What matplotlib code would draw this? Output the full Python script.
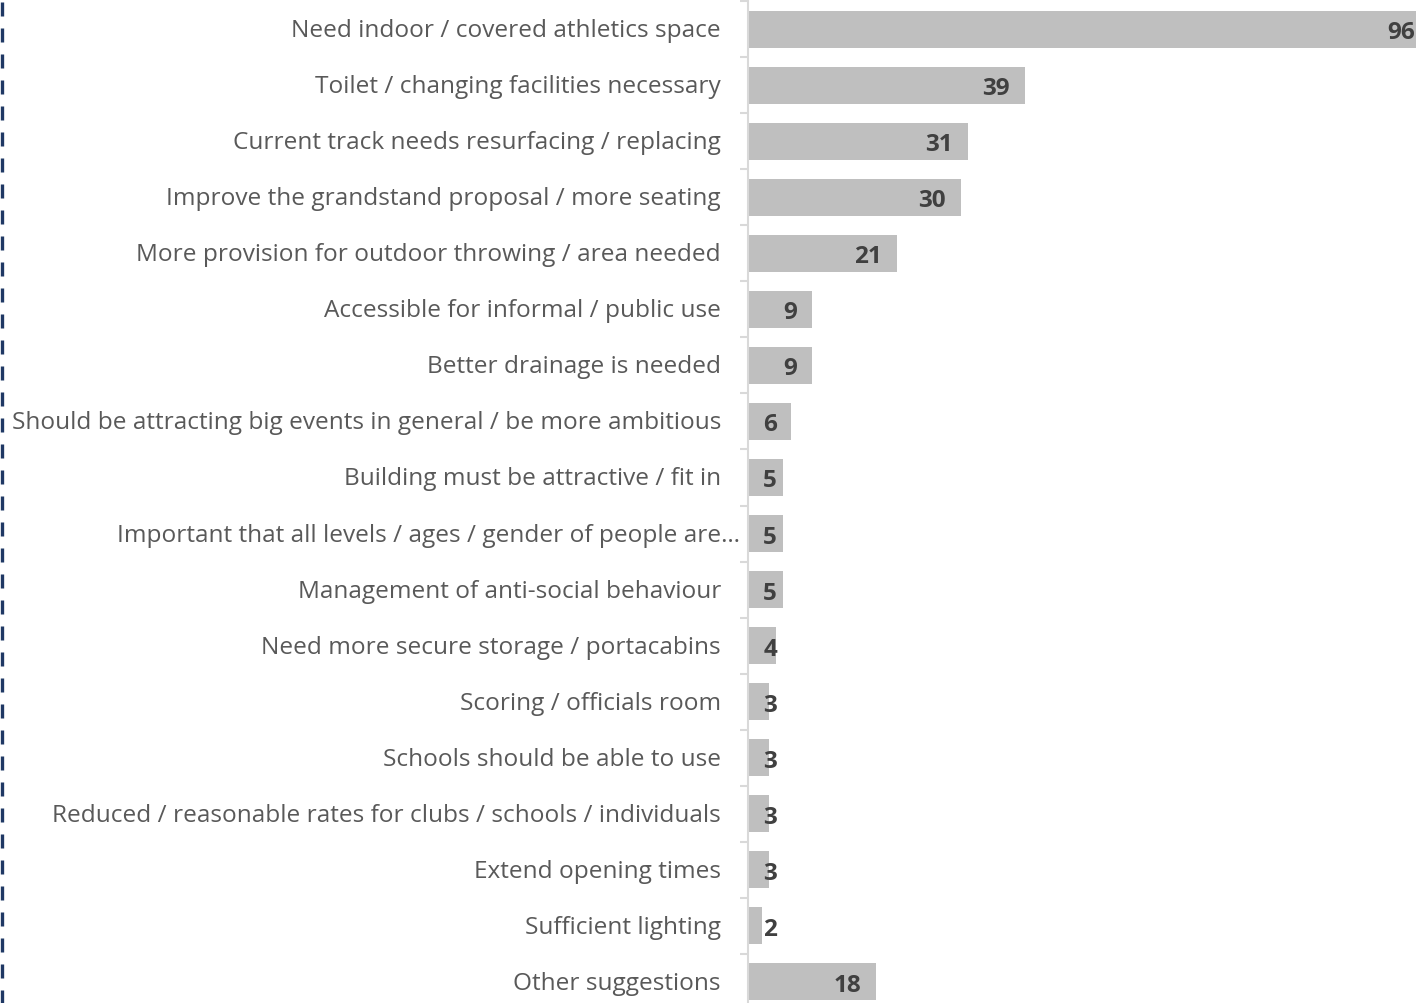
import matplotlib
matplotlib.use("Agg")
import matplotlib.pyplot as plt
import matplotlib.transforms as mtransforms
from matplotlib.lines import Line2D
import numpy as np

categories = [
    "Need indoor / covered athletics space",
    "Toilet / changing facilities necessary",
    "Current track needs resurfacing / replacing",
    "Improve the grandstand proposal / more seating",
    "More provision for outdoor throwing / area needed",
    "Accessible for informal / public use",
    "Better drainage is needed",
    "Should be attracting big events in general / be more ambitious",
    "Building must be attractive / fit in",
    "Important that all levels / ages / gender of people are\u2026",
    "Management of anti-social behaviour",
    "Need more secure storage / portacabins",
    "Scoring / officials room",
    "Schools should be able to use",
    "Reduced / reasonable rates for clubs / schools / individuals",
    "Extend opening times",
    "Sufficient lighting",
    "Other suggestions",
]
values = [96, 39, 31, 30, 21, 9, 9, 6, 5, 5, 5, 4, 3, 3, 3, 3, 2, 18]

W, H = 1416, 1004
fig = plt.figure(figsize=(W / 100, H / 100), dpi=100)
plt.rcParams['font.family'] = ['Open Sans', 'DejaVu Sans']

ax_left = 748 / W
ax_bottom = -7 / H
ax = fig.add_axes([ax_left, ax_bottom, 1 - ax_left, 1009 / H])

y = np.arange(len(categories))
ax.barh(y, values, height=0.66, color="#bfbfbf", zorder=2)
ax.set_xlim(0, 94.1)
ax.set_ylim(len(categories) - 0.5, -0.5)

for s in ["top", "right", "bottom"]:
    ax.spines[s].set_visible(False)
ax.spines["left"].set_color("#d9d9d9")
ax.spines["left"].set_linewidth(1.5)
ax.set_xticks([])
ax.set_yticks(y)
ax.set_yticklabels(categories, fontsize=17.6, color="#595959")
ax.tick_params(axis="y", which="major", length=0, pad=19.5)
ax.set_yticks(np.arange(-0.5, len(categories), 1), minor=True)
ax.tick_params(axis="y", which="minor", length=6, width=1.5, color="#d9d9d9")

# nudge tick labels up slightly; shift the truncated label to the right
for i, lbl in enumerate(ax.get_yticklabels()):
    dx = 19 / 100 if i == 9 else 0
    lbl.set_transform(lbl.get_transform() + mtransforms.ScaledTranslation(dx, 2 / 100, fig.dpi_scale_trans))

for yi, v in zip(y, values):
    xr = max(v - 2.1, 4.1)
    ax.text(xr, yi, str(v), ha="right", va="center_baseline", fontsize=17.5, fontweight="bold",
            color="#404040", zorder=3)

# dashed border on left
fig.add_artist(Line2D([2 / W, 2 / W], [1 - 3 / H, 0], transform=fig.transFigure,
                      color="#1f3864", linewidth=2.4, dashes=(4.2, 3.6)))

fig.savefig("out.png", dpi=100)
